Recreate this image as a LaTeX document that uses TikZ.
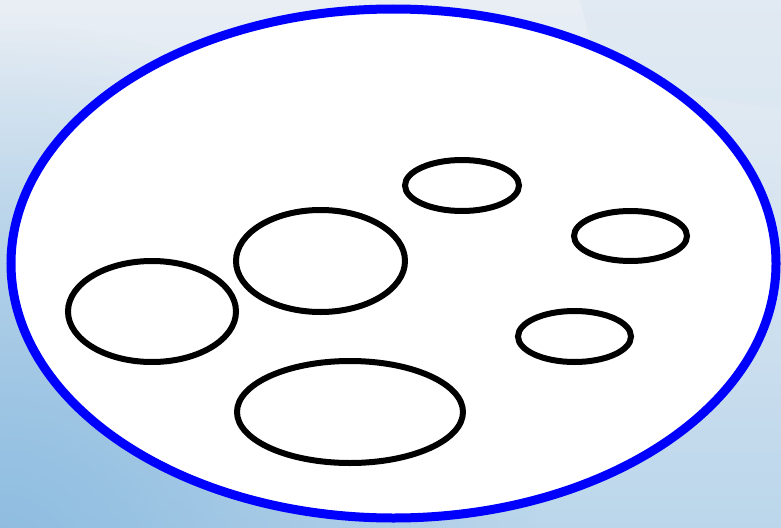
\documentclass[tikz,border=0pt]{standalone}
\usetikzlibrary{shapes.geometric,fadings}
\definecolor{bgtop}{HTML}{E9EEF4}
\definecolor{bgbot}{HTML}{BBD6EB}
\definecolor{bgdark}{HTML}{8DBCE0}
\definecolor{bgband}{HTML}{D6E5F1}
\tikzfading[name=softglow, inner color=transparent!0, outer color=transparent!100]
\tikzset{
  outerring/.style={ellipse, draw=blue, line width=9pt, fill=white, inner sep=0pt, outer sep=0pt},
  innerring/.style={ellipse, draw=black, line width=6pt, inner sep=0pt, outer sep=0pt}
}
\begin{document}
\begin{tikzpicture}[x=1pt,y=-1pt]
\useasboundingbox (0,0) rectangle (781,527);
% background
\shade[top color=bgtop, bottom color=bgbot] (0,0) rectangle (781,527);
\begin{scope}
\clip (0,0) rectangle (781,527);
\fill[bgdark, path fading=softglow] (0,560) circle (540);
\fill[bgband, opacity=0.4] (580,0) -- (781,0) -- (781,110) -- (600,80) -- cycle;
\end{scope}
% big ellipse
\node[outerring, minimum width=765pt, minimum height=509pt] (world) at (393.5,263.5) {};
% inner ellipses
\node[innerring, minimum width=168pt, minimum height=101pt] (a) at (152,311.5) {};
\node[innerring, minimum width=169pt, minimum height=102pt] (b) at (320.5,261) {};
\node[innerring, minimum width=226pt, minimum height=102pt] (c) at (350,412) {};
\node[innerring, minimum width=114pt, minimum height=51pt] (d) at (462,185.5) {};
\node[innerring, minimum width=113pt, minimum height=50pt] (e) at (630.5,236) {};
\node[innerring, minimum width=113pt, minimum height=51pt] (f) at (574.5,336.5) {};
\end{tikzpicture}
\end{document}
